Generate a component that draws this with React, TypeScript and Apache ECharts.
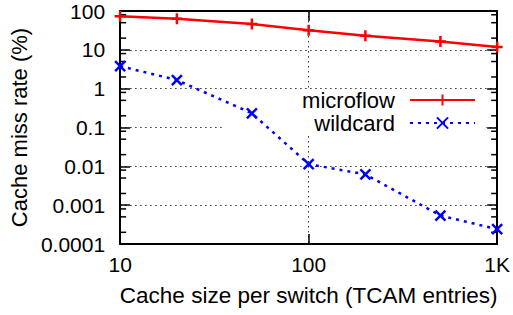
import React, { useEffect, useRef } from "react";
import * as echarts from "echarts";

const xValues = [10, 20, 50, 100, 200, 500, 1000];
const microflow = [73, 63, 46, 32, 23, 16.5, 11.8];
const wildcard = [3.8, 1.67, 0.232, 0.0114, 0.0062, 0.00054, 0.00024];
const xTickLabels = ["10", "100", "1K"];
const yTickLabels = ["0.0001", "0.001", "0.01", "0.1", "1", "10", "100"];
const yDecades = [0.0001, 0.001, 0.01, 0.1, 1, 10];
const minorMultipliers = [2, 5, 8];

const FONT = "'Liberation Sans', Arial, Helvetica, sans-serif";
const X_MIN = 10;
const X_MAX = 1000;
const Y_MIN = 0.0001;
const Y_MAX = 100;

export default function App() {
  const ref = useRef<HTMLDivElement>(null);
  useEffect(() => {
    if (!ref.current) return;
    const chart = echarts.init(ref.current, null, { renderer: "svg" });
    const minorTicks: number[][] = [];
    yDecades.forEach((d) => minorMultipliers.forEach((m) => minorTicks.push([X_MIN, d * m])));
    const microData = xValues.map((x, i) => [x, microflow[i]]);
    const wildData = xValues.map((x, i) => [x, wildcard[i]]);

    const tickStyle = { color: "#000", width: 1.5 };
    const axisLineStyle = { color: "#000", width: 2 };
    const gridDots = { color: "#333", width: 1, type: [1.5, 3.5] as any };

    chart.setOption({
      animation: false,
      backgroundColor: "#fff",
      grid: { left: 119, right: 15, top: 11, bottom: 71, containLabel: false },
      xAxis: [
        {
          type: "log",
          logBase: 10,
          min: X_MIN,
          max: X_MAX,
          splitNumber: 2,
          position: "bottom",
          axisLine: { show: true, lineStyle: axisLineStyle },
          axisTick: { show: true, inside: true, length: 10, lineStyle: tickStyle },
          minorTick: { show: false },
          splitLine: { show: true, lineStyle: gridDots },
          axisLabel: {
            fontSize: 21,
            fontFamily: FONT,
            color: "#000",
            margin: 10,
            formatter: (v: number) => xTickLabels[Math.round(Math.log10(v)) - 1] ?? "",
          },
          name: "Cache size per switch (TCAM entries)",
          nameLocation: "middle",
          nameGap: 40,
          nameTextStyle: { fontSize: 22.5, fontFamily: FONT, color: "#000" },
        },
        {
          type: "log",
          logBase: 10,
          min: X_MIN,
          max: X_MAX,
          splitNumber: 2,
          position: "top",
          axisLine: { show: true, lineStyle: axisLineStyle },
          axisTick: { show: true, inside: true, length: 10, lineStyle: tickStyle },
          splitLine: { show: false },
          axisLabel: { show: false },
        },
      ],
      yAxis: [
        {
          type: "log",
          logBase: 10,
          min: Y_MIN,
          max: Y_MAX,
          splitNumber: 6,
          position: "left",
          axisLine: { show: true, lineStyle: axisLineStyle },
          axisTick: { show: true, inside: true, length: 10, lineStyle: tickStyle },
          splitLine: { show: true, lineStyle: gridDots },
          axisLabel: {
            fontSize: 21,
            fontFamily: FONT,
            color: "#000",
            margin: 15,
            formatter: (v: number) => yTickLabels[Math.round(Math.log10(v)) + 4] ?? "",
          },
          name: "Cache miss rate (%)",
          nameLocation: "middle",
          nameGap: 88,
          nameTextStyle: { fontSize: 22, fontFamily: FONT, color: "#000" },
        },
        {
          type: "log",
          logBase: 10,
          min: Y_MIN,
          max: Y_MAX,
          splitNumber: 6,
          position: "right",
          axisLine: { show: true, lineStyle: axisLineStyle },
          axisTick: { show: true, inside: true, length: 10, lineStyle: tickStyle },
          splitLine: { show: false },
          axisLabel: { show: false },
        },
      ],
      legend: {
        data: ["microflow", "wildcard"],
        orient: "vertical",
        align: "right",
        right: 27,
        top: 89,
        itemWidth: 65,
        itemHeight: 14,
        itemGap: 1,
        selectedMode: false,
        backgroundColor: "#fff",
        padding: [0, 10, 0, 78],
        z: 1,
        textStyle: {
          fontSize: 22,
          fontFamily: FONT,
          color: "#000",
          lineHeight: 22,
          padding: [0, 10, 0, 0],
        },
      },
      series: [
        {
          name: "microflow",
          type: "line",
          xAxisIndex: 0,
          yAxisIndex: 0,
          data: microData,
          z: 3,
          symbol: "path://M0,-1 L0,1 M-1,0 L1,0",
          symbolSize: 11,
          showAllSymbol: true,
          lineStyle: { color: "#ff0000", width: 2.5, type: "solid" },
          itemStyle: { color: "#ff0000", borderColor: "#ff0000", borderWidth: 2.5 },
          emphasis: { disabled: true },
        },
        {
          name: "wildcard",
          type: "line",
          xAxisIndex: 0,
          yAxisIndex: 0,
          data: wildData,
          z: 3,
          symbol: "path://M-1,-1 L1,1 M-1,1 L1,-1",
          symbolSize: 10,
          showAllSymbol: true,
          lineStyle: { color: "#0000ff", width: 2.5, type: [3, 5] },
          itemStyle: { color: "#0000ff", borderColor: "#0000ff", borderWidth: 2.5 },
          emphasis: { disabled: true },
        },
        {
          name: "minorTicks",
          type: "custom",
          xAxisIndex: 0,
          yAxisIndex: 0,
          data: minorTicks,
          silent: true,
          clip: false,
          z: 3,
          renderItem: (params: any, api: any) => {
            const v = api.value(1);
            const l = api.coord([X_MIN, v]);
            const r = api.coord([X_MAX, v]);
            const st = { stroke: "#000", lineWidth: 1.5 };
            return {
              type: "group",
              children: [
                { type: "line", shape: { x1: l[0], y1: l[1], x2: l[0] + 6, y2: l[1] }, style: st },
                { type: "line", shape: { x1: r[0], y1: r[1], x2: r[0] - 6, y2: r[1] }, style: st },
              ],
            };
          },
        },
      ],
    });
    return () => chart.dispose();
  }, []);
  return (
    <div
      ref={ref}
      style={{ position: "fixed", left: 0, top: 0, width: 513, height: 315, background: "#fff" }}
    />
  );
}
